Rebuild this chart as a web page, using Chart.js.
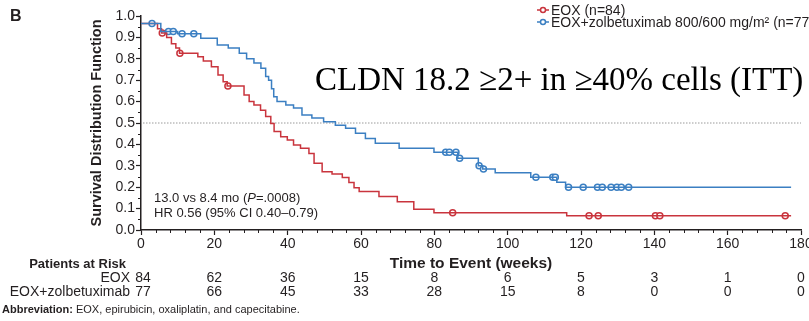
<!DOCTYPE html>
<html>
<head>
<meta charset="utf-8">
<script src="https://cdn.jsdelivr.net/npm/chart.js"></script>
<style>
  html, body { margin: 0; padding: 0; background: #fff; }
</style>
</head>
<body>
<canvas id="km" width="809" height="321"></canvas>
<script>
// Kaplan-Meier steps (weeks, survival)
const eoxTime = [0, 4.5, 5.6, 7, 8.3, 9.5, 10.5, 15.5, 17, 19.2, 21, 22.4, 23.5, 28.1, 29.5, 30.8, 32.6, 34, 35.4, 36.3, 38.1, 39.9, 41.6, 43.5, 45.8, 47.2, 49.4, 52.1, 54.9, 56.7, 58.1, 59.5, 64.9, 69.9, 74.4, 79.9, 116.1, 177.3];
const eoxSurv = [0.965, 0.94, 0.92, 0.90, 0.87, 0.85, 0.826, 0.81, 0.79, 0.763, 0.724, 0.693, 0.673, 0.631, 0.60, 0.584, 0.56, 0.53, 0.498, 0.46, 0.436, 0.42, 0.397, 0.382, 0.358, 0.312, 0.272, 0.262, 0.245, 0.222, 0.198, 0.18, 0.156, 0.132, 0.097, 0.081, 0.067, 0.067];
const eoxCensTime = [5.8, 10.6, 23.7, 85, 122.2, 124.7, 140.3, 141.5, 175.7];
const eoxCensSurv = [0.92, 0.826, 0.673, 0.081, 0.067, 0.067, 0.067, 0.067, 0.067];

const zolTime = [0, 5.4, 10, 16.3, 20.8, 23.8, 26.8, 28.8, 30.8, 32.7, 34.0, 34.8, 35.6, 36.2, 37.1, 39.5, 41.6, 43.9, 46.6, 49.8, 53, 55.8, 58.5, 61.2, 63.9, 70.4, 79.9, 86.4, 92.0, 93.2, 96.6, 106.3, 113.4, 115.8, 177.3];
const zolSurv = [0.965, 0.927, 0.917, 0.896, 0.864, 0.85, 0.826, 0.80, 0.78, 0.756, 0.717, 0.70, 0.66, 0.623, 0.60, 0.584, 0.57, 0.537, 0.523, 0.506, 0.49, 0.475, 0.452, 0.428, 0.405, 0.382, 0.363, 0.335, 0.30, 0.285, 0.268, 0.246, 0.223, 0.2, 0.2];
const zolCensTime = [3, 7.5, 8.8, 11.2, 14.4, 83.1, 84.1, 85.9, 86.9, 92.2, 93.4, 107.7, 112.3, 113, 116.6, 120.6, 124.5, 125.8, 128.2, 129.8, 131, 133];
const zolCensSurv = [0.965, 0.927, 0.927, 0.917, 0.917, 0.363, 0.363, 0.363, 0.335, 0.30, 0.285, 0.246, 0.246, 0.246, 0.2, 0.2, 0.2, 0.2, 0.2, 0.2, 0.2, 0.2];

// patients at risk table
const riskWeeks = [0, 20, 40, 60, 80, 100, 120, 140, 160, 180];
const eoxRisk = [84, 62, 36, 15, 8, 6, 5, 3, 1, 0];
const zolRisk = [77, 66, 45, 33, 28, 15, 8, 0, 0, 0];

const legendLabels = ["EOX (n=84)", "EOX+zolbetuximab 800/600 mg/m² (n=77)"];
const riskLabels = ["EOX", "EOX+zolbetuximab"];

const RED = "#c9343d";
const BLUE = "#3b7fc2";
const INK = "#231f20";
const SANS = '"Liberation Sans", Arial, sans-serif';

const pts = (xs, ys) => xs.map((x, i) => ({ x: x, y: ys[i] }));

function runs(ctx, parts, x, y) {
  // draw text pieces with different fonts one after another
  let cx = x;
  parts.forEach(([txt, font]) => {
    ctx.font = font;
    ctx.fillText(txt, cx, y);
    cx += ctx.measureText(txt).width;
  });
}

const decor = {
  id: "decor",
  beforeDatasetsDraw(chart) {
    const { ctx, chartArea: a, scales: { x, y } } = chart;
    ctx.save();
    // reference line at 0.5
    ctx.strokeStyle = "#9a9a9a";
    ctx.lineWidth = 1;
    ctx.setLineDash([1.5, 1.5]);
    ctx.beginPath();
    ctx.moveTo(a.left + 2, y.getPixelForValue(0.5));
    ctx.lineTo(a.right, y.getPixelForValue(0.5));
    ctx.stroke();
    ctx.setLineDash([]);
    // minor ticks
    ctx.strokeStyle = INK;
    ctx.lineWidth = 1;
    for (let w = 4; w < 180; w += 4) {
      if (w % 20 === 0) continue;
      const px = Math.round(x.getPixelForValue(w)) + 0.5;
      ctx.beginPath();
      ctx.moveTo(px, a.bottom);
      ctx.lineTo(px, a.bottom + 3);
      ctx.stroke();
    }
    for (let k = 1; k < 20; k += 2) {
      const py = Math.round(y.getPixelForValue(k / 20)) + 0.5;
      ctx.beginPath();
      ctx.moveTo(a.left - 3, py);
      ctx.lineTo(a.left, py);
      ctx.stroke();
    }
    ctx.restore();
  },
  afterDraw(chart) {
    const { ctx, chartArea: a, scales: { x } } = chart;
    ctx.save();
    ctx.fillStyle = INK;
    ctx.textBaseline = "middle";

    ctx.font = "bold 16px " + SANS;
    ctx.textAlign = "left";
    ctx.fillText("B", 10, 17);

    // y title
    ctx.save();
    ctx.translate(97, (a.top + a.bottom) / 2);
    ctx.rotate(-Math.PI / 2);
    ctx.textAlign = "center";
    ctx.font = "bold 14.5px " + SANS;
    ctx.fillText("Survival Distribution Function", 0, 0);
    ctx.restore();

    // legend
    [RED, BLUE].forEach((c, i) => {
      const ly = 10 + i * 12;
      ctx.strokeStyle = c;
      ctx.lineWidth = 1.5;
      ctx.beginPath();
      ctx.moveTo(537, ly);
      ctx.lineTo(549, ly);
      ctx.stroke();
      ctx.fillStyle = "#fff";
      ctx.beginPath();
      ctx.arc(543, ly, 2.5, 0, Math.PI * 2);
      ctx.fill();
      ctx.stroke();
      ctx.fillStyle = INK;
      ctx.font = "14px " + SANS;
      ctx.fillText(legendLabels[i], 551, ly + 1);
    });

    // subgroup caption
    ctx.font = '33px "Liberation Serif", "Times New Roman", serif';
    ctx.textBaseline = "alphabetic";
    ctx.fillStyle = "#000";
    ctx.fillText("CLDN 18.2 \u22652+ in \u226540% cells (ITT)", 315, 90);

    // stats
    ctx.fillStyle = INK;
    ctx.textBaseline = "middle";
    const f = "13px " + SANS;
    runs(ctx, [["13.0 vs 8.4 mo (", f], ["P", "italic " + f], ["=.0008)", f]], 154, 198);
    runs(ctx, [["HR 0.56 (95% CI 0.40\u20130.79)", f]], 154, 213);

    // axis title + risk table
    ctx.textAlign = "center";
    ctx.font = "bold 15.5px " + SANS;
    ctx.fillText("Time to Event (weeks)", (a.left + a.right) / 2, 264);
    ctx.textAlign = "right";
    ctx.font = "bold 13px " + SANS;
    ctx.fillText("Patients at Risk", 126, 264);
    ctx.font = "14px " + SANS;
    ctx.fillText(riskLabels[0], 130, 278);
    ctx.fillText(riskLabels[1], 130, 292);
    ctx.textAlign = "center";
    riskWeeks.forEach((w, i) => {
      const px = x.getPixelForValue(w) + (i === 0 ? 2 : 0);
      ctx.fillText(String(eoxRisk[i]), px, 278);
      ctx.fillText(String(zolRisk[i]), px, 292);
    });

    ctx.textAlign = "left";
    runs(ctx, [["Abbreviation: ", "bold 11px " + SANS], ["EOX, epirubicin, oxaliplatin, and capecitabine.", "11px " + SANS]], 2, 310);
    ctx.restore();
  }
};

new Chart(document.getElementById("km"), {
  type: "line",
  data: {
    datasets: [
      { label: legendLabels[1], data: pts(zolTime, zolSurv), borderColor: BLUE, borderWidth: 1.5, stepped: "before", pointRadius: 0, fill: false },
      { label: legendLabels[0], data: pts(eoxTime, eoxSurv), borderColor: RED, borderWidth: 1.5, stepped: "before", pointRadius: 0, fill: false },
      { data: pts(zolCensTime, zolCensSurv), showLine: false, pointStyle: "circle", pointRadius: 3, pointBorderWidth: 1.5, pointBorderColor: BLUE, pointBackgroundColor: "#fff" },
      { data: pts(eoxCensTime, eoxCensSurv), showLine: false, pointStyle: "circle", pointRadius: 3, pointBorderWidth: 1.5, pointBorderColor: RED, pointBackgroundColor: "#fff" }
    ]
  },
  options: {
    responsive: false,
    animation: false,
    devicePixelRatio: 1,
    layout: { padding: { top: 16, right: 8, left: 0, bottom: 0 } },
    plugins: { legend: { display: false }, tooltip: { enabled: false } },
    scales: {
      x: {
        type: "linear", min: 0, max: 180,
        ticks: { stepSize: 20, font: { size: 14, family: SANS }, color: INK, padding: 1, maxRotation: 0, autoSkip: false },
        grid: { drawOnChartArea: false, tickLength: 5, tickColor: INK, tickWidth: 1.2 },
        border: { color: INK, width: 1.5 },
        afterFit(s) { s.height = 91; s.paddingLeft = 0; s.paddingRight = 0; }
      },
      y: {
        min: 0, max: 1,
        ticks: { stepSize: 0.1, callback: v => v.toFixed(1), font: { size: 14, family: SANS }, color: INK, padding: 1 },
        grid: { drawOnChartArea: false, tickLength: 5, tickColor: INK, tickWidth: 1.2 },
        border: { color: INK, width: 1.5 },
        afterFit(s) { s.width = 141; s.paddingTop = 0; s.paddingBottom = 0; }
      }
    }
  },
  plugins: [decor]
});
</script>
</body>
</html>
